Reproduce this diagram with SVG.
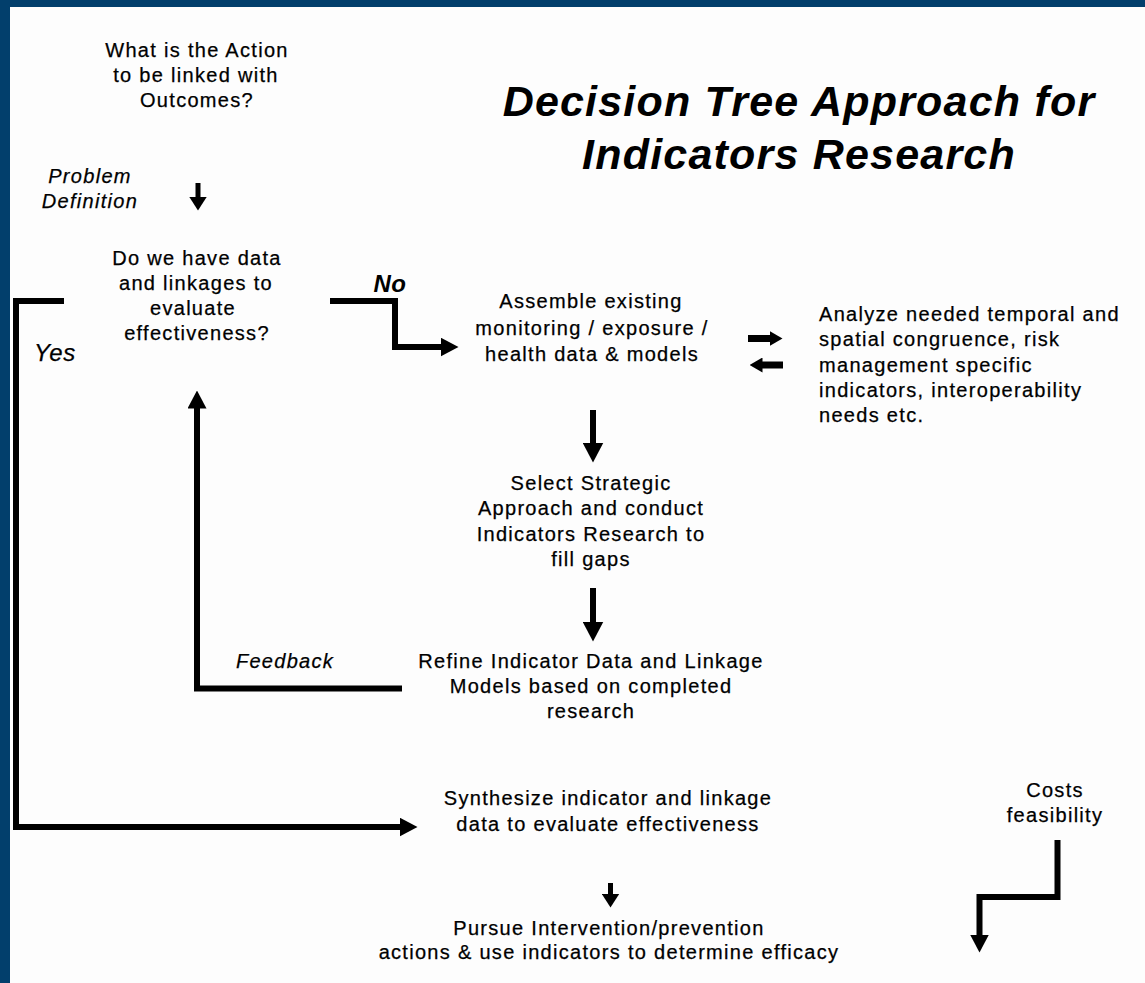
<svg xmlns="http://www.w3.org/2000/svg" width="1145" height="983" viewBox="0 0 1145 983">
<style>
.t{font-family:"Liberation Sans",Arial,sans-serif;font-size:20px;letter-spacing:1.3px;fill:#000;stroke:#000;stroke-width:0.25px;text-anchor:middle}
.l{text-anchor:start}
.i{font-style:italic}
.big{font-size:24px;letter-spacing:0.6px}
.b{font-weight:bold;stroke-width:0}
.title{font-family:"Liberation Sans",Arial,sans-serif;font-size:43px;font-weight:bold;font-style:italic;letter-spacing:1.2px;fill:#000;text-anchor:middle}
.c{fill:none;stroke:#000;stroke-width:6;stroke-linejoin:miter;stroke-linecap:butt}
.cs{stroke-width:5}
.cb{stroke-width:7}
</style>
<defs>
<marker id="hL" markerUnits="userSpaceOnUse" orient="auto" viewBox="0 0 18 19" markerWidth="18" markerHeight="19" refX="0.5" refY="9.5"><path d="M0,0L18,9.5L0,19Z" fill="#000"/></marker>
<marker id="hM" markerUnits="userSpaceOnUse" orient="auto" viewBox="0 0 20 21" markerWidth="20" markerHeight="21" refX="0.5" refY="10.5"><path d="M0,0L20,10.5L0,21Z" fill="#000"/></marker>
<marker id="hS" markerUnits="userSpaceOnUse" orient="auto" viewBox="0 0 14 18" markerWidth="14" markerHeight="18" refX="0.5" refY="9"><path d="M0,0L14,9L0,18Z" fill="#000"/></marker>
<marker id="hB" markerUnits="userSpaceOnUse" orient="auto" viewBox="0 0 13 15" markerWidth="13" markerHeight="15" refX="0.5" refY="7.5"><path d="M0,0L13,7.5L0,15Z" fill="#000"/></marker>
</defs>
<rect x="0" y="0" width="1145" height="983" fill="#fdfdfd"/>
<rect x="0" y="0" width="1145" height="7" fill="#023f6c"/>
<rect x="0" y="0" width="10" height="983" fill="#023f6c"/>

<g id="title">
<text class="title" x="799" y="116">Decision Tree Approach for</text>
<text class="title" x="799" y="169">Indicators Research</text>
</g>

<g id="n-action">
<text class="t" x="197" y="57">What is the Action</text>
<text class="t" x="196" y="82">to be linked with</text>
<text class="t" x="197" y="107">Outcomes?</text>
</g>

<g id="n-problem-definition">
<text class="t i" x="90" y="183">Problem</text>
<text class="t i" x="90" y="208">Definition</text>
</g>

<g id="n-decision">
<text class="t" x="197" y="265">Do we have data</text>
<text class="t" x="196" y="290">and linkages to</text>
<text class="t" x="193" y="315">evaluate</text>
<text class="t" x="197" y="340">effectiveness?</text>
</g>

<g id="n-assemble">
<text class="t" x="591" y="308">Assemble existing</text>
<text class="t" x="592" y="335">monitoring / exposure /</text>
<text class="t" x="592" y="361">health data &amp; models</text>
</g>

<g id="n-analyze">
<text class="t l" x="819" y="321">Analyze needed temporal and</text>
<text class="t l" x="819" y="346">spatial congruence, risk</text>
<text class="t l" x="819" y="372">management specific</text>
<text class="t l" x="819" y="397">indicators, interoperability</text>
<text class="t l" x="819" y="422">needs etc.</text>
</g>

<g id="n-select">
<text class="t" x="591" y="490">Select Strategic</text>
<text class="t" x="591" y="515">Approach and conduct</text>
<text class="t" x="591" y="541">Indicators Research to</text>
<text class="t" x="591" y="566">fill gaps</text>
</g>

<g id="n-refine">
<text class="t" x="591" y="668">Refine Indicator Data and Linkage</text>
<text class="t" x="591" y="693">Models based on completed</text>
<text class="t" x="591" y="718">research</text>
</g>

<g id="n-synthesize">
<text class="t" x="608" y="805">Synthesize indicator and linkage</text>
<text class="t" x="608" y="831">data to evaluate effectiveness</text>
</g>

<g id="n-pursue">
<text class="t" x="609" y="935">Pursue Intervention/prevention</text>
<text class="t" x="609" y="959">actions &amp; use indicators to determine efficacy</text>
</g>

<g id="n-costs">
<text class="t" x="1055" y="797">Costs</text>
<text class="t" x="1055" y="822">feasibility</text>
</g>

<g id="connectors">
<path class="c cs" d="M198,183V197" marker-end="url(#hS)"/>
<path class="c" d="M64,301H16V827H400" marker-end="url(#hL)"/>
<path class="c" d="M330,301H395V347H441" marker-end="url(#hL)"/>
<path class="c cb" d="M748,338.5H770" marker-end="url(#hB)"/>
<path class="c cb" d="M783,365H762" marker-end="url(#hB)"/>
<path class="c" d="M593,410V443" marker-end="url(#hM)"/>
<path class="c" d="M593,588V622" marker-end="url(#hM)"/>
<path class="c" d="M402,688.5H197V408" marker-end="url(#hL)"/>
<path class="c cs" d="M610.5,883V894" marker-end="url(#hS)"/>
<path class="c" d="M1057.5,840V897H979.5V935" marker-end="url(#hL)"/>
<text class="t i big" x="55" y="361">Yes</text>
<text class="t i b big" x="390" y="292">No</text>
<text class="t i" x="285" y="668">Feedback</text>
</g>
</svg>
